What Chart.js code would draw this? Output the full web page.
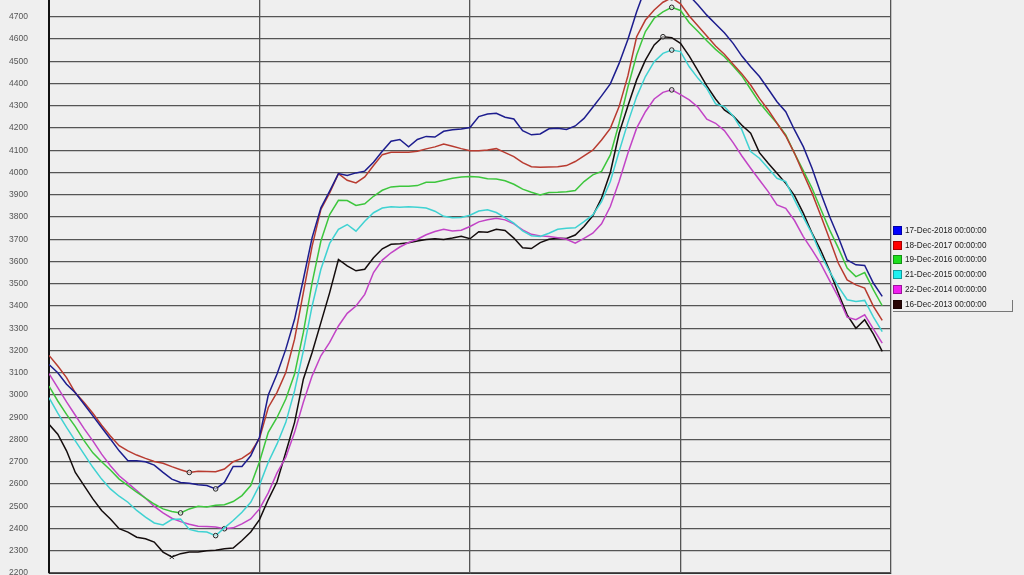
<!DOCTYPE html>
<html>
<head>
<meta charset="utf-8">
<script src="https://cdn.jsdelivr.net/npm/chart.js@4.4.1/dist/chart.umd.min.js"></script>
<style>
  html, body { margin: 0; padding: 0; background: #efefef; }
  #wrap { position: relative; width: 1024px; height: 575px; overflow: hidden; }
  #legend { position: absolute; left: 0; top: 0; font-family: "Liberation Sans", Arial, sans-serif; font-size: 8.2px; color: #222; }
  .row { position: absolute; left: 893px; width: 119px; height: 11px; white-space: nowrap; }
  .sq { position: absolute; left: 0; top: 0; width: 9px; height: 9px; border: 1px solid rgba(0,0,0,0.35); box-sizing: border-box; }
  .txt { position: absolute; left: 12px; top: -1px; line-height: 11px; }
  .row.sel { border-right: 1px solid #777; border-bottom: 1px solid #777; }
</style>
</head>
<body>
<div id="wrap">
  <canvas id="demandChart" width="1024" height="575"></canvas>
  <div id="legend"></div>
</div>
<script>
// quarter-hour slots, 00:00 .. 23:45
const hours = Array.from({ length: 96 }, (_, i) => i / 4);

const seriesNames = [
  "17-Dec-2018 00:00:00",
  "18-Dec-2017 00:00:00",
  "19-Dec-2016 00:00:00",
  "21-Dec-2015 00:00:00",
  "22-Dec-2014 00:00:00",
  "16-Dec-2013 00:00:00",
];

const demand2018 = [
  3137, 3100, 3048, 3010, 2958, 2906, 2854, 2802, 2749, 2704, 2704, 2700,
  2685, 2652, 2622, 2607, 2603, 2597, 2593, 2578, 2607, 2679, 2679, 2727,
  2810, 3000, 3094, 3206, 3340, 3520, 3707, 3841, 3916, 3995, 3986, 3998,
  4006, 4046, 4095, 4140, 4148, 4115, 4148, 4162, 4159, 4185, 4192, 4195,
  4202, 4251, 4263, 4266, 4248, 4240, 4188, 4169, 4173, 4196, 4199, 4193,
  4209, 4243, 4293, 4344, 4398, 4490, 4598, 4722, 4830, 4865, 4880, 4870,
  4840, 4795, 4752, 4707, 4667, 4628, 4580, 4523, 4475, 4431, 4375, 4318,
  4273, 4191, 4116, 4019, 3907, 3802, 3709, 3607, 3585, 3582, 3502, 3443,
];

const demand2017 = [
  3178, 3130, 3078, 3010, 2966, 2918, 2864, 2816, 2772, 2749, 2730, 2715,
  2701, 2693, 2678, 2664, 2652, 2657, 2656, 2655, 2667, 2700, 2715, 2742,
  2805, 2944, 3012, 3101, 3251, 3460, 3669, 3834, 3908, 3995, 3965, 3953,
  3980, 4031, 4080, 4091, 4091, 4091, 4095, 4106, 4115, 4128, 4118, 4107,
  4098, 4098, 4101, 4107, 4089, 4071, 4044, 4026, 4023, 4025, 4026, 4031,
  4049, 4074, 4100, 4146, 4198, 4296, 4434, 4610, 4685, 4730, 4765, 4785,
  4758, 4703, 4658, 4613, 4568, 4531, 4486, 4443, 4393, 4333, 4281, 4221,
  4164, 4086, 3996, 3907, 3805, 3700, 3592, 3517, 3495, 3480, 3398, 3335,
];

const demand2016 = [
  3040, 2973, 2913, 2858, 2795, 2740, 2700, 2663, 2622, 2593, 2563, 2536,
  2510, 2488, 2476, 2470, 2488, 2500, 2497, 2504, 2507, 2521, 2548, 2593,
  2700, 2832, 2899, 2982, 3094, 3281, 3505, 3692, 3811, 3875, 3874, 3852,
  3859, 3893, 3920, 3935, 3938, 3938, 3941, 3956, 3956, 3965, 3974, 3980,
  3982, 3980, 3972, 3971, 3963, 3947, 3925, 3911, 3899, 3910, 3911, 3913,
  3919, 3959, 3989, 4005, 4079, 4221, 4383, 4528, 4633, 4693, 4722, 4742,
  4728, 4673, 4633, 4592, 4553, 4520, 4478, 4434, 4374, 4314, 4266, 4221,
  4169, 4086, 4008, 3929, 3835, 3742, 3660, 3570, 3532, 3550, 3472, 3401,
];

const demand2015 = [
  2988, 2918, 2854, 2794, 2734, 2675, 2622, 2578, 2545, 2518, 2481, 2451,
  2425, 2416, 2440, 2443, 2396, 2387, 2384, 2368, 2403, 2436, 2473, 2518,
  2595, 2698, 2780, 2877, 3019, 3198, 3400, 3565, 3681, 3744, 3766, 3736,
  3781, 3819, 3840, 3846, 3844, 3846, 3844, 3840, 3826, 3803, 3796, 3798,
  3808, 3827, 3832, 3820, 3797, 3772, 3737, 3716, 3712, 3727, 3745, 3749,
  3751, 3779, 3809, 3869, 3959, 4094, 4224, 4341, 4431, 4498, 4535, 4550,
  4543, 4475, 4423, 4378, 4308, 4296, 4254, 4191, 4094, 4064, 4019, 3974,
  3959, 3877, 3799, 3724, 3630, 3555, 3487, 3428, 3420, 3425, 3350, 3285,
];

const demand2014 = [
  3096, 3033, 2969, 2909, 2849, 2794, 2734, 2682, 2637, 2604, 2570, 2536,
  2499, 2470, 2446, 2431, 2419, 2410, 2409, 2407, 2399, 2403, 2421, 2443,
  2488, 2560, 2650, 2720, 2832, 2967, 3086, 3176, 3236, 3310, 3367, 3400,
  3452, 3550, 3606, 3639, 3665, 3685, 3700, 3720, 3735, 3745, 3737, 3740,
  3757, 3778, 3787, 3794, 3787, 3769, 3742, 3722, 3715, 3712, 3707, 3700,
  3682, 3704, 3727, 3769, 3847, 3959, 4086, 4199, 4273, 4330, 4360, 4371,
  4350, 4326, 4293, 4239, 4221, 4188, 4134, 4074, 4019, 3966, 3914, 3854,
  3839, 3784, 3712, 3652, 3589, 3514, 3440, 3350, 3338, 3360, 3296, 3233,
];

const demand2013 = [
  2868, 2824, 2749, 2652, 2593, 2533, 2481, 2443, 2399, 2384, 2361, 2354,
  2339, 2294, 2272, 2287, 2294, 2294, 2300, 2302, 2309, 2312, 2346, 2384,
  2440, 2530, 2610, 2743, 2877, 3071, 3191, 3325, 3460, 3609, 3580, 3558,
  3565, 3617, 3657, 3677, 3680, 3684, 3692, 3699, 3702, 3699, 3705, 3713,
  3702, 3734, 3731, 3745, 3739, 3705, 3662, 3658, 3685, 3700, 3704, 3703,
  3719, 3757, 3805, 3885, 4000, 4176, 4299, 4416, 4505, 4573, 4610, 4606,
  4580, 4523, 4457, 4389, 4330, 4281, 4254, 4212, 4176, 4089, 4041, 3996,
  3951, 3896, 3817, 3727, 3649, 3559, 3457, 3360, 3300, 3338, 3273, 3196,
];

const yTicks = [2200, 2300, 2400, 2500, 2600, 2700, 2800, 2900, 3000, 3100, 3200,
  3300, 3400, 3500, 3600, 3700, 3800, 3900, 4000, 4100, 4200, 4300, 4400, 4500, 4600, 4700];
const xTicks = [0, 6, 12, 18, 24];

const allSeries = [demand2018, demand2017, demand2016, demand2015, demand2014, demand2013];
const lineColors = ["#1d1d8e", "#b83b30", "#3dc63d", "#3fd2d2", "#c244c6", "#140d0d"];
const legendColors = ["#0000ff", "#ff0000", "#1ee01e", "#1ef0f0", "#f01ef0", "#2a0606"];

const datasets = allSeries.map((values, k) => {
  const minIdx = values.indexOf(Math.min(...values));
  const maxIdx = values.indexOf(Math.max(...values));
  const isBlack = k === 5;
  return {
    label: seriesNames[k],
    data: values.map((v, i) => ({ x: hours[i], y: v })),
    borderColor: lineColors[k],
    borderWidth: 1.5,
    tension: 0,
    pointRadius: values.map((v, i) => (i === minIdx || i === maxIdx ? (isBlack && i === minIdx ? 3 : 2.3) : 0)),
    pointStyle: values.map((v, i) => (isBlack && i === minIdx ? "crossRot" : "circle")),
    pointBorderColor: "#222",
    pointBackgroundColor: "rgba(240,240,240,0.6)",
    pointBorderWidth: 1,
  };
});

new Chart(document.getElementById("demandChart"), {
  type: "line",
  data: { datasets: datasets },
  options: {
    responsive: false,
    animation: false,
    devicePixelRatio: 1,
    layout: { padding: { left: 0, right: 133, top: 0, bottom: 2 } },
    plugins: { legend: { display: false }, tooltip: { enabled: false } },
    scales: {
      x: {
        type: "linear",
        min: 0,
        max: 24,
        afterBuildTicks: (s) => { s.ticks = xTicks.map((v) => ({ value: v })); },
        afterFit: (s) => { s.height = 0; s.paddingLeft = 0; s.paddingRight = 0; },
        ticks: { display: false },
        grid: { color: "#555", lineWidth: 1.3, drawTicks: false },
        border: { display: true, color: "#333", width: 1 },
      },
      y: {
        min: 2200,
        max: 4775,
        afterBuildTicks: (s) => { s.ticks = yTicks.map((v) => ({ value: v })); },
        afterFit: (s) => { s.width = 49; s.paddingTop = 0; s.paddingBottom = 0; },
        ticks: {
          padding: 21,
          color: "#555",
          font: { family: "'Liberation Sans', Arial, sans-serif", size: 8.5 },
          callback: (v) => String(v),
        },
        grid: { color: "#555", lineWidth: 1.3, drawTicks: false },
        border: { display: true, color: "#111", width: 2 },
      },
    },
  },
});

// legend on the right
const legendEl = document.getElementById("legend");
seriesNames.forEach((name, k) => {
  const row = document.createElement("div");
  row.className = "row" + (k === seriesNames.length - 1 ? " sel" : "");
  row.style.top = (226 + k * 14.7) + "px";
  row.innerHTML = '<div class="sq" style="background:' + legendColors[k] + '"></div><div class="txt">' + name + "</div>";
  legendEl.appendChild(row);
});
</script>
</body>
</html>
